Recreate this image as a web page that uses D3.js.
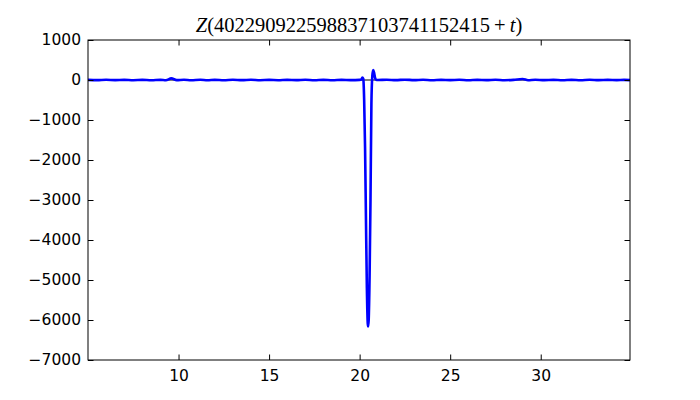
<!DOCTYPE html>
<html>
<head>
<meta charset="utf-8">
<script src="https://cdn.jsdelivr.net/npm/d3@7/dist/d3.min.js"></script>
<style>
  body { margin: 0; background: #fff; }
</style>
</head>
<body>
<div id="chart"></div>
<script>
// t offsets and Z values
const tValues = [
  5.0, 5.5, 6.0, 6.5, 7.0, 7.5, 8.0, 8.5, 9.0, 9.3, 9.6, 9.9, 10.3, 10.7, 11.2, 11.6,
  12.0, 12.5, 13.0, 13.5, 14.0, 14.5, 15.0, 15.5, 16.0, 16.5, 17.0, 17.5, 18.0, 18.5,
  19.0, 19.5, 20.0, 20.1, 20.15, 20.2, 20.25, 20.3, 20.35, 20.4, 20.45, 20.47, 20.5,
  20.55, 20.6, 20.65, 20.7, 20.75, 20.8, 20.85, 20.9, 21.0, 21.5, 22.0, 22.5, 23.0,
  23.5, 24.0, 24.5, 25.0, 25.5, 26.0, 26.5, 27.0, 27.5, 28.0, 28.5, 29.0, 29.3, 29.7,
  30.2, 30.7, 31.2, 31.7, 32.2, 32.7, 33.2, 33.7, 34.2, 34.6, 34.93
];
const zValues = [
  3, -4, 5, -3, 4, -5, 3, -6, 4, -5, 40, -4, 6, -5, 8, -5,
  4, -6, 5, -4, 5, -5, 3, -5, 4, -3, 6, -5, 4, -5,
  4, -4, 3, 15, 60, 30, -500, -1700, -3500, -5200, -6100, -6160, -6000,
  -4900, -3000, -600, 100, 250, 180, 60, 10, 0, 6, -4, 8, -4,
  5, -5, 4, -3, 5, -6, 4, -4, 6, -5, 4, 25, -5, 5,
  -4, 4, -5, 4, -5, 5, -4, 4, -3, 4, -3
];
const xTicks = [10, 15, 20, 25, 30];
const yTicks = [-7000, -6000, -5000, -4000, -3000, -2000, -1000, 0, 1000];

const W = 700, H = 400;
const margin = { top: 40, right: 70, bottom: 40, left: 88 };

const svg = d3.select('#chart').append('svg').attr('width', W).attr('height', H);

const x = d3.scaleLinear().domain([5, 34.93]).range([margin.left, W - margin.right]);
const y = d3.scaleLinear().domain([-7000, 1000]).range([H - margin.bottom, margin.top]);

const fmt = d => (d < 0 ? '\u2212' + Math.abs(d) : '' + d);

svg.append('clipPath').attr('id', 'clip')
  .append('rect')
  .attr('x', x.range()[0]).attr('y', y.range()[1])
  .attr('width', x.range()[1] - x.range()[0])
  .attr('height', y.range()[0] - y.range()[1]);

const plot = svg.append('g').attr('clip-path', 'url(#clip)');

// zero line under the curve
plot.append('line')
  .attr('x1', x.range()[0]).attr('x2', x.range()[1])
  .attr('y1', y(0)).attr('y2', y(0))
  .attr('stroke', '#000').attr('stroke-width', 1);

const pts = tValues.map((t, i) => [t, zValues[i]]);
const line = d3.line().x(d => x(d[0])).y(d => y(d[1])).curve(d3.curveMonotoneX);

plot.append('path')
  .datum(pts)
  .attr('d', line)
  .attr('fill', 'none')
  .attr('stroke', '#0000ff')
  .attr('stroke-width', 2.6)
  .attr('stroke-linejoin', 'round');

// axes, classic style: ticks inside, on all four sides
const tickLen = 5.5;
const axB = svg.append('g').attr('transform', `translate(0,${y.range()[0]})`)
  .call(d3.axisBottom(x).tickValues(xTicks).tickSizeInner(-tickLen).tickSizeOuter(0).tickPadding(10).tickFormat(fmt));
const axT = svg.append('g').attr('transform', `translate(0,${y.range()[1]})`)
  .call(d3.axisTop(x).tickValues(xTicks).tickSizeInner(-tickLen).tickSizeOuter(0).tickFormat(''));
const axL = svg.append('g').attr('transform', `translate(${x.range()[0]},0)`)
  .call(d3.axisLeft(y).tickValues(yTicks).tickSizeInner(-tickLen).tickSizeOuter(0).tickPadding(7).tickFormat(fmt));
const axR = svg.append('g').attr('transform', `translate(${x.range()[1]},0)`)
  .call(d3.axisRight(y).tickValues(yTicks).tickSizeInner(-tickLen).tickSizeOuter(0).tickFormat(''));

[axB, axT, axL, axR].forEach(a => {
  a.select('.domain').remove();
  a.selectAll('line').attr('stroke', '#000').attr('stroke-width', 1);
  a.selectAll('text').attr('fill', '#000')
    .style('font-size', '15.5px')
    .style('font-family', '"DejaVu Sans", sans-serif');
});

// frame
svg.append('rect')
  .attr('x', x.range()[0]).attr('y', y.range()[1])
  .attr('width', x.range()[1] - x.range()[0])
  .attr('height', y.range()[0] - y.range()[1])
  .attr('fill', 'none').attr('stroke', '#000').attr('stroke-width', 1);

// title
const title = svg.append('text')
  .attr('x', (x.range()[0] + x.range()[1]) / 2)
  .attr('y', 32)
  .attr('text-anchor', 'middle')
  .style('font-family', '"Liberation Serif", "DejaVu Serif", serif')
  .style('font-size', '20.5px')
  .attr('fill', '#000');
title.append('tspan').style('font-style', 'italic').text('Z');
title.append('tspan').text('(402290922598837103741152415\u2009+\u2009');
title.append('tspan').style('font-style', 'italic').text('t');
title.append('tspan').text(')');
</script>
</body>
</html>
